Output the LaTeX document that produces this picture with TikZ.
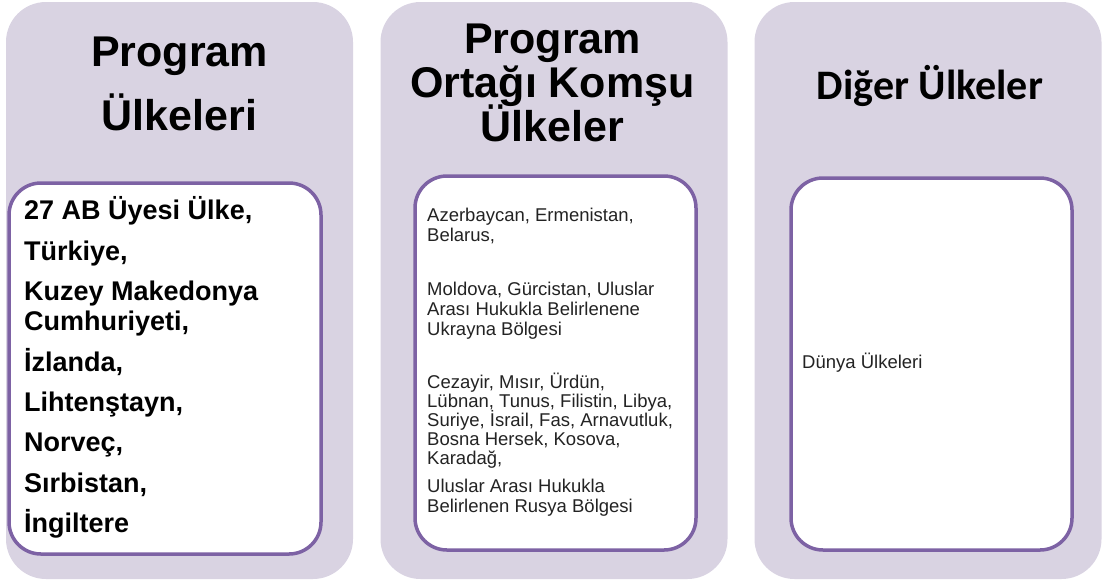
\documentclass[tikz,border=0pt]{standalone}
\usepackage{fontspec}
\setmainfont{Liberation Sans}
\newfontfamily\calfont{Carlito}
\usepackage{tikz}
\definecolor{lilac}{RGB}{217,211,226}
\definecolor{plum}{RGB}{125,98,164}
\definecolor{ink}{RGB}{35,35,35}
\newcommand\tightlines{\lineskiplimit=-20pt\relax}

\begin{document}
\begin{tikzpicture}[x=1pt, y=-1pt,
  panel/.style={fill=lilac, draw=none, rounded corners=40pt, inner sep=0pt},
  listbox/.style={fill=white, draw=plum, line width=3.5pt, rounded corners=32pt, inner sep=0pt},
  title/.style={align=center, anchor=base, inner sep=0pt},
  bigtext/.style={align=left, anchor=base west, inner sep=0pt, font=\fontsize{27}{30}\selectfont\bfseries\tightlines},
  smalltext/.style={align=left, anchor=base west, inner sep=0pt, font=\fontsize{18.5}{19.8}\selectfont\tightlines, text=ink}]

  \newcommand\PW{347}
  \newcommand\PH{577}

  \useasboundingbox (0,0) rectangle (1103,582);

  %% three columns
  \node[panel, minimum width=\PW pt, minimum height=\PH pt] (pA) at (179.5, 290.5) {};
  \node[panel, minimum width=\PW pt, minimum height=\PH pt] (pB) at (554, 290.5) {};
  \node[panel, minimum width=\PW pt, minimum height=\PH pt] (pC) at (928, 290.5) {};

  %% white boxes
  \node[listbox, minimum width=312pt, minimum height=371pt] (bA) at (165, 368.5) {};
  \node[listbox, minimum width=281pt, minimum height=374pt] (bB) at (555.5, 363) {};
  \node[listbox, minimum width=281pt, minimum height=372pt] (bC) at (931.5, 364) {};

  %% headings (base = last line)
  \node[title, font=\fontsize{43}{63.5}\selectfont\bfseries\tightlines] (tA) at (179.5, 130) {Program\\Ülkeleri};
  \node[title, font=\fontsize{43}{44.2}\selectfont\bfseries\tightlines] (tB) at (552.5, 141.7) {Program\\Ortağı Komşu\\Ülkeler};
  \node[title, font=\calfont\fontsize{42}{44}\selectfont\bfseries] (tC) at (930, 99) {Diğer Ülkeler};

  %% lists
  \node[bigtext] (lA) at (24, 532.7) {27 AB Üyesi Ülke,\\[10.4pt] Türkiye,\\[10.4pt] Kuzey Makedonya\\ Cumhuriyeti,\\[10.4pt] İzlanda,\\[10.4pt] Lihtenştayn,\\[10.4pt] Norveç,\\[10.4pt] Sırbistan,\\[10.4pt] İngiltere};

  \node[smalltext] (lB1) at (427, 241.7) {Azerbaycan, Ermenistan,\\ Belarus,};
  \node[smalltext] (lB2) at (427, 335) {Moldova, Gürcistan, Uluslar\\ Arası Hukukla Belirlenene\\ Ukrayna Bölgesi};
  \node[smalltext, font=\fontsize{18.5}{19}\selectfont\tightlines] (lB3) at (427, 464.3) {Cezayir, Mısır, Ürdün,\\ Lübnan, Tunus, Filistin, Libya,\\ Suriye, İsrail, Fas, Arnavutluk,\\ Bosna Hersek, Kosova,\\ Karadağ,};
  \node[smalltext] (lB4) at (427, 512.7) {Uluslar Arası Hukukla\\ Belirlenen Rusya Bölgesi};

  \node[smalltext] (lC) at (802, 368) {Dünya Ülkeleri};

\end{tikzpicture}
\end{document}
